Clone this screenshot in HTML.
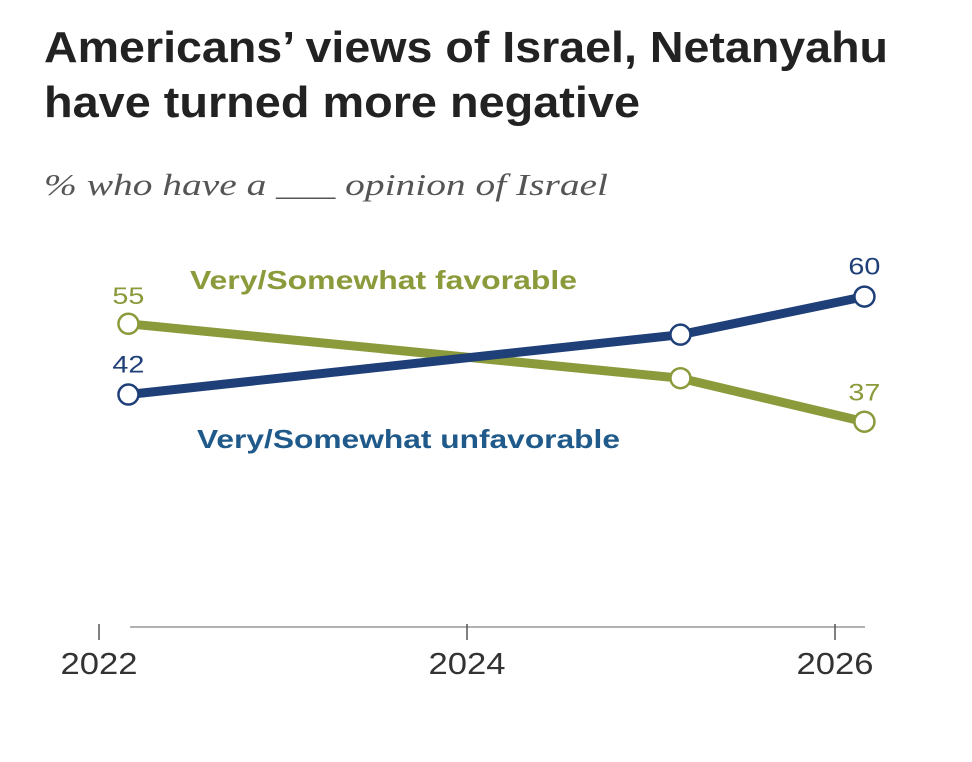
<!DOCTYPE html>
<html><head><meta charset="utf-8"><style>
body{margin:0;background:#fff;width:972px;height:762px;overflow:hidden;font-family:"Liberation Sans",sans-serif}
</style></head><body>
<svg id="c" width="972" height="762" style="position:absolute;left:0;top:0">
<text x="44" y="62" font-size="44" font-weight="bold" fill="#222" textLength="844" lengthAdjust="spacingAndGlyphs">Americans’ views of Israel, Netanyahu</text>
<text x="44" y="117" font-size="44" font-weight="bold" fill="#222" textLength="596" lengthAdjust="spacingAndGlyphs">have turned more negative</text>
<text x="44" y="195" font-size="31" font-style="italic" font-family="Liberation Serif, serif" fill="#555" textLength="564" lengthAdjust="spacingAndGlyphs">% who have a ___ opinion of Israel</text>
</svg>
<script>
const dates=[2022.16,2025.16,2026.16];
const favorable=[55,45,37];
const unfavorable=[42,53,60];
const tickYears=[2022,2024,2026];
const tickLabels=["2022","2024","2026"];
const X=v=>99+(v-2022)*184;
const Y=v=>623-v*5.44;
const svg=document.getElementById('c');
const NS='http://www.w3.org/2000/svg';
function mk(t,a){const e=document.createElementNS(NS,t);for(const k in a)e.setAttribute(k,a[k]);svg.appendChild(e);return e;}
let ax=mk('line',{x1:130,x2:865,y1:627,y2:627,stroke:'#999','stroke-width':1.5});


tickYears.forEach((y,i)=>{
 let t=mk('line',{x1:X(y),x2:X(y),y1:624,y2:640,stroke:'#555','stroke-width':1.5});
 
 
 let l=mk('text',{x:X(y),y:674,'text-anchor':'middle','font-size':31,fill:'#333',textLength:77,lengthAdjust:'spacingAndGlyphs'});
 l.textContent=tickLabels[i];
 
 
});
function series(vals,color,name){
 let p=mk('polyline',{points:vals.map((v,i)=>X(dates[i])+','+Y(v)).join(' '),fill:'none',stroke:color,'stroke-width':9,'stroke-linejoin':'round'});
 
 
 vals.forEach((v,i)=>{
  let c=mk('circle',{cx:X(dates[i]),cy:Y(v),r:10,fill:'#fff',stroke:color,'stroke-width':2.5});
  
  
 });
}
series(favorable,'#8b9a3b','favorable');
series(unfavorable,'#1f3f78','unfavorable');
function lab(x,y,txt,color,name,bold,size,len){
 let t=mk('text',{x:x,y:y,'text-anchor':bold?'start':'middle','font-size':size,fill:color,'font-weight':bold?'bold':'normal',textLength:len,lengthAdjust:'spacingAndGlyphs'});
 t.textContent=txt;
 
 
}
lab(X(dates[0]),Y(favorable[0])-20,String(favorable[0]),'#8b9a3b','favorable-label-start',false,24,32);
lab(X(dates[2]),Y(favorable[2])-21,String(favorable[2]),'#8b9a3b','favorable-label-end',false,24,32);
lab(X(dates[0]),Y(unfavorable[0])-22,String(unfavorable[0]),'#1f3f78','unfavorable-label-start',false,24,32);
lab(X(dates[2]),Y(unfavorable[2])-22,String(unfavorable[2]),'#1f3f78','unfavorable-label-end',false,24,32);
lab(190,289,'Very/Somewhat favorable','#8b9a3b','favorable-series-label',true,26,387);
lab(197,448,'Very/Somewhat unfavorable','#1f5a8a','unfavorable-series-label',true,26,423);
</script>
</body></html>
